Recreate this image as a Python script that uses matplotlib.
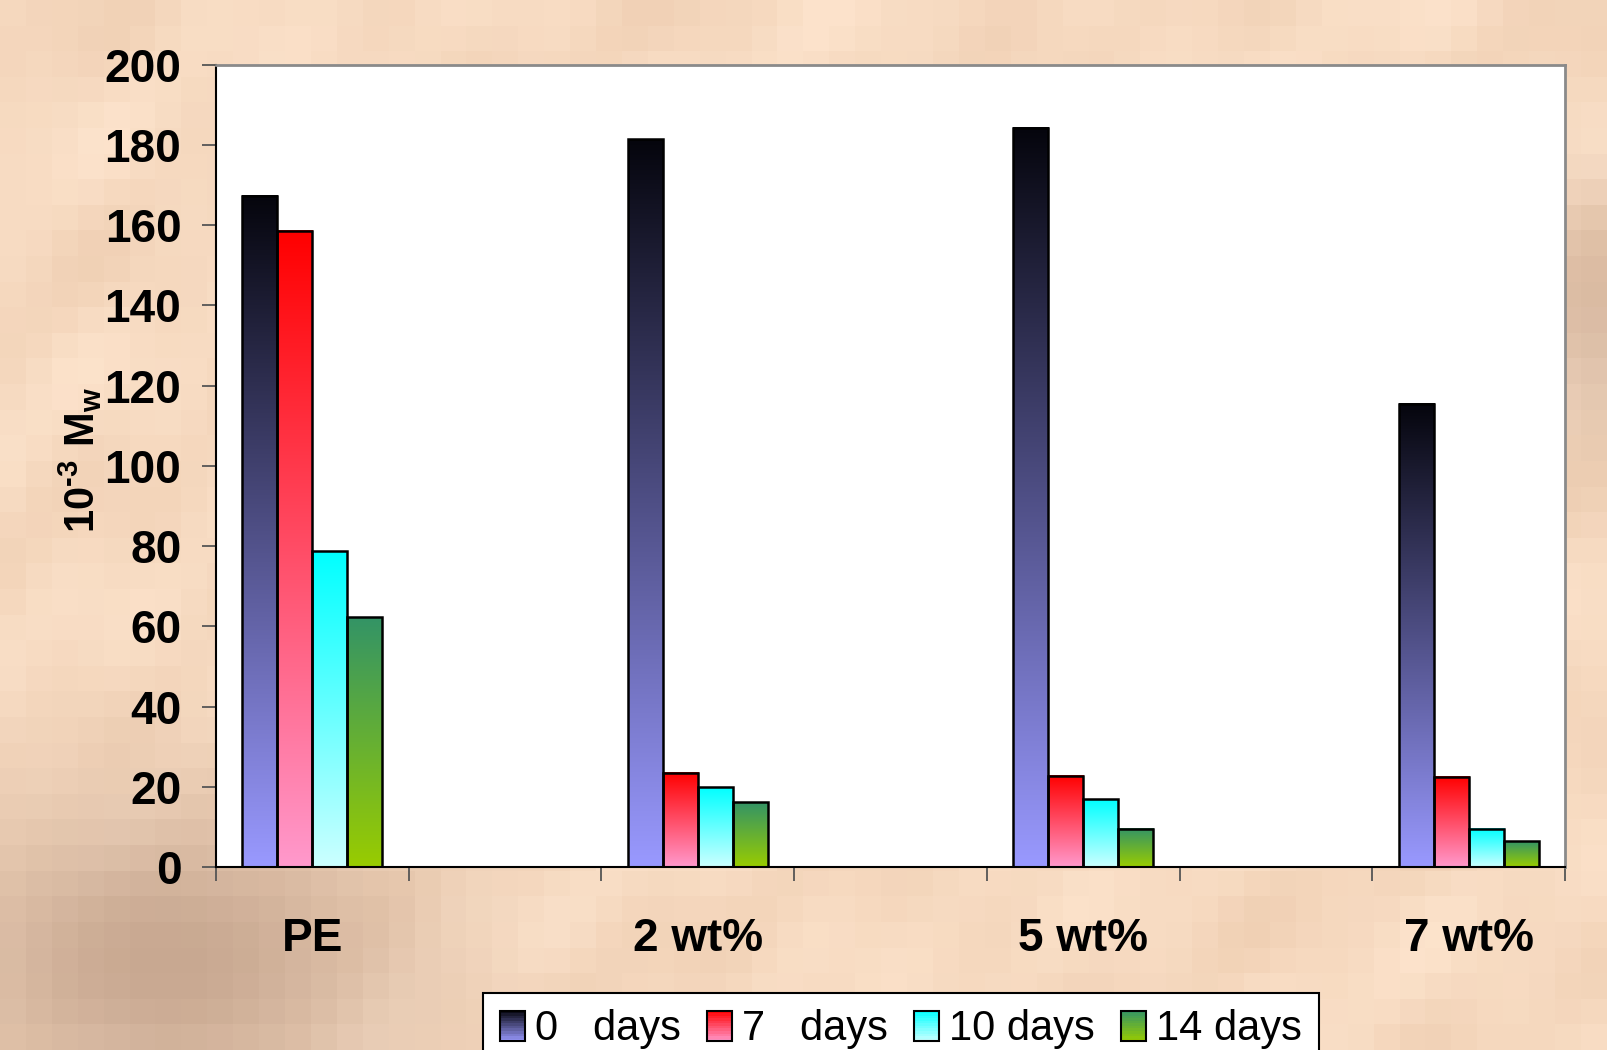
import numpy as np
import matplotlib
matplotlib.use("Agg")
import matplotlib.pyplot as plt
from matplotlib.patches import Rectangle
from matplotlib.legend_handler import HandlerBase

# Molecular weight (x 10^-3) by filler loading and degradation time
categories = ["PE", "2 wt%", "5 wt%", "7 wt%"]
series_names = ["0   days", "7   days", "10 days", "14 days"]
mw_0d = [167.3, 181.4, 184.2, 115.5]
mw_7d = [158.6, 23.5, 22.7, 22.5]
mw_10d = [78.7, 19.9, 16.9, 9.5]
mw_14d = [62.3, 16.1, 9.5, 6.4]
y_ticks = [0, 20, 40, 60, 80, 100, 120, 140, 160, 180, 200]

# top colour -> bottom colour for each series
gradients = [
    ((0.02, 0.02, 0.05), (0.60, 0.60, 1.00)),
    ((1.00, 0.00, 0.00), (1.00, 0.60, 0.80)),
    ((0.00, 1.00, 1.00), (0.80, 1.00, 1.00)),
    ((0.20, 0.58, 0.40), (0.60, 0.80, 0.00)),
]

plt.rcParams["font.family"] = ["Liberation Sans", "DejaVu Sans"]
plt.rcParams["mathtext.fontset"] = "custom"
plt.rcParams["mathtext.rm"] = "Liberation Sans:bold"
plt.rcParams["mathtext.it"] = "Liberation Sans:bold"
plt.rcParams["mathtext.bf"] = "Liberation Sans:bold"

W, H = 1607, 1050
fig = plt.figure(figsize=(W / 100, H / 100), dpi=100)

# blocky peach backdrop
bs = 26
nx, ny = W // bs + 1, H // bs + 1
gx, gy = np.meshgrid(np.arange(nx), np.arange(ny))
field = (0.5 + 0.22 * np.sin(gx * 0.55) * np.cos(gy * 0.7)
         + 0.18 * np.sin((gx + 2 * gy) * 0.33) + 0.1 * np.cos(gx * 1.3 + gy * 0.9))
dark = np.exp(-(((gx - 6) / 9.0) ** 2 + ((gy - 37) / 6.0) ** 2))
dark += 0.6 * np.exp(-(((gx - 61) / 3.0) ** 2 + ((gy - 12) / 5.0) ** 2))
light = np.array([253, 228, 205]) / 255
mid = np.array([240, 208, 180]) / 255
deep = np.array([200, 168, 145]) / 255
t = np.clip(field, 0, 1)[..., None]
bg = light * (1 - t) + mid * t
d = np.clip(dark, 0, 1)[..., None]
bg = bg * (1 - d) + deep * d
bg_ax = fig.add_axes([0, 0, 1, 1], zorder=-10)
bg_ax.imshow(bg, extent=(0, W, H, 0), interpolation="nearest", aspect="auto")
bg_ax.set_xlim(0, W)
bg_ax.set_ylim(H, 0)
bg_ax.axis("off")

ax = fig.add_axes([0.1344, 0.1743, 0.8395, 0.7642])
ax.set_facecolor("white")

n_slots = 7
slot_of = [0, 2, 4, 6]
bw = 1 / 5.5
all_series = [mw_0d, mw_7d, mw_10d, mw_14d]
for k, vals in enumerate(all_series):
    xs = [s + 0.5 + (k - 1.5) * bw for s in slot_of]
    bars = ax.bar(xs, vals, width=bw, facecolor="none", edgecolor="black",
                  linewidth=1.8, zorder=3)
    top, bot = np.array(gradients[k][0]), np.array(gradients[k][1])
    ramp = np.linspace(0, 1, 200)[:, None, None]
    img = top * (1 - ramp) + bot * ramp
    for b in bars:
        x0 = b.get_x()
        ax.imshow(img, extent=(x0, x0 + b.get_width(), 0, b.get_height()),
                  aspect="auto", interpolation="bilinear", zorder=2)

ax.set_xlim(0, n_slots)
ax.set_ylim(0, 200)
ax.set_yticks(y_ticks)
ax.set_yticklabels([str(v) for v in y_ticks], fontsize=33, fontweight="bold")
ax.tick_params(axis="y", direction="out", length=10, width=1.3, color="#555555", pad=15)

ax.set_xticks(range(n_slots + 1))
ax.set_xticklabels([])
ax.set_xticks([s + 0.5 for s in slot_of], minor=True)
ax.set_xticklabels(categories, minor=True, fontsize=33, fontweight="bold")
ax.tick_params(axis="x", which="major", direction="out", length=10, width=1.3, color="#555555")
ax.tick_params(axis="x", which="minor", length=0, pad=36)

for side in ["left", "bottom"]:
    ax.spines[side].set_color("black")
    ax.spines[side].set_linewidth(1.5)
for side in ["top", "right"]:
    ax.spines[side].set_color("#8a8a8a")
    ax.spines[side].set_linewidth(2)

ax.set_ylabel(r"$10^{\text{-}3}\ \mathrm{M}_\mathrm{w}$", fontsize=30)
ax.yaxis.set_label_coords(-0.083, 0.507)


class GradientHandler(HandlerBase):
    def __init__(self, cols):
        super().__init__()
        self.cols = cols

    def create_artists(self, legend, orig_handle, xdescent, ydescent,
                       width, height, fontsize, trans):
        top, bot = (np.array(c) for c in self.cols[orig_handle.get_label()])
        arts = []
        n = 12
        for i in range(n):
            f = (i + 0.5) / n
            c = bot * (1 - f) + top * f
            arts.append(Rectangle((-xdescent, -ydescent + height * i / n), width,
                                  height / n + 0.3, facecolor=c, edgecolor="none",
                                  transform=trans))
        arts.append(Rectangle((-xdescent, -ydescent), width, height, facecolor="none",
                              edgecolor="black", linewidth=1.5, transform=trans))
        return arts


handles = [Rectangle((0, 0), 1, 1, label=name) for name in series_names]
cols = {name: gradients[k] for k, name in enumerate(series_names)}
leg = fig.legend(handles=handles, labels=series_names, ncol=4,
                 loc="upper left", bbox_to_anchor=(0.3006, 0.0545),
                 fontsize=30, frameon=True, fancybox=False,
                 handlelength=0.6, handleheight=0.75, handletextpad=0.25,
                 columnspacing=0.62, borderpad=0.4, borderaxespad=0,
                 handler_map={h: GradientHandler(cols) for h in handles})
leg.get_frame().set_edgecolor("black")
leg.get_frame().set_linewidth(1.5)
leg.get_frame().set_facecolor("white")
leg.get_frame().set_alpha(1)

fig.savefig("out.png", dpi=100)
